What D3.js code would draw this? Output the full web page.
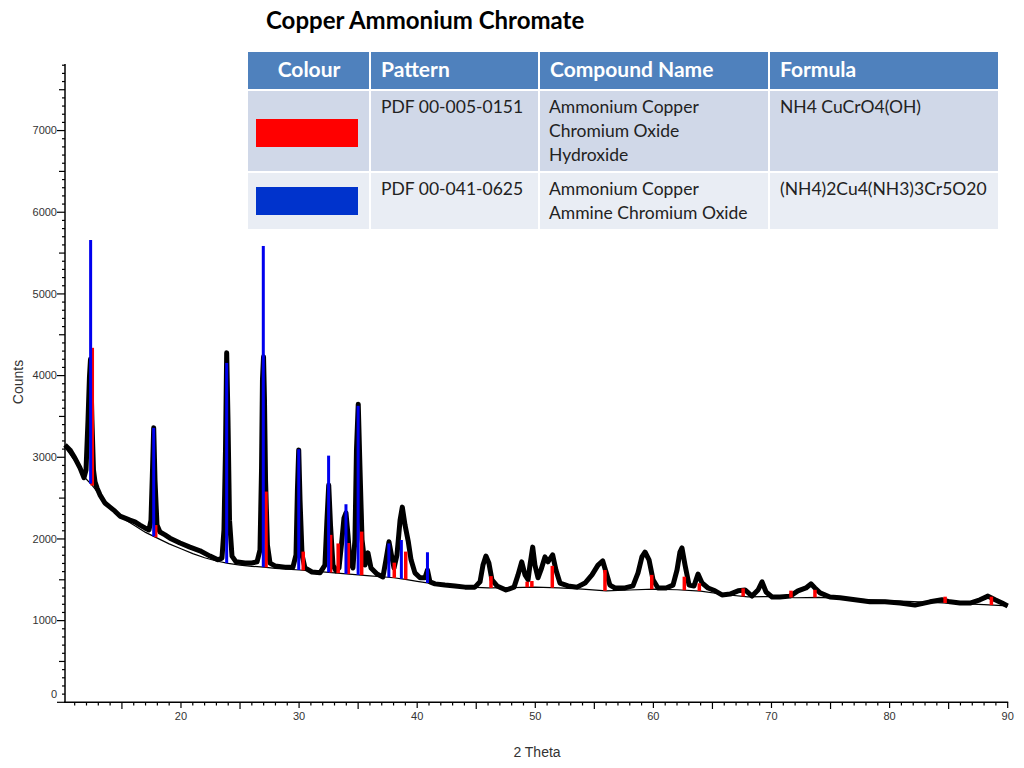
<!DOCTYPE html>
<html>
<head>
<meta charset="utf-8">
<script src="https://cdnjs.cloudflare.com/ajax/libs/d3/7.8.5/d3.min.js"></script>
<style>
  body { margin: 0; background: #fff; }
  svg { display: block; }
</style>
</head>
<body>
<div class="wrapper"></div>
<script>
var chartTitle = "Copper Ammonium Chromate";

var scan = [
  [10.18, 3150], [10.6, 3090], [11.02, 2990], [11.45, 2870], [11.79, 2750], [11.96, 2845],
  [12.13, 3460], [12.25, 3980], [12.34, 4200], [12.46, 3460], [12.59, 2845], [12.72, 2700],
  [12.89, 2625], [13.14, 2540], [13.56, 2440], [13.99, 2390], [14.41, 2340], [14.83, 2280],
  [15.26, 2255], [15.68, 2230], [16.1, 2210], [16.53, 2170], [16.95, 2135], [17.29, 2110],
  [17.46, 2230], [17.59, 2845], [17.69, 3360], [17.8, 2720], [17.97, 2170], [18.22, 2085],
  [18.65, 2050], [19.07, 2010], [19.92, 1950], [20.76, 1900], [21.61, 1855], [22.46, 1790],
  [23.13, 1745], [23.47, 1765], [23.64, 2110], [23.77, 3090], [23.87, 4280], [23.98, 3460],
  [24.11, 2230], [24.32, 1790], [24.66, 1720], [25.42, 1705], [26.01, 1705], [26.44, 1720],
  [26.69, 1865], [26.82, 2845], [26.9, 3950], [26.99, 4230], [27.07, 3700], [27.16, 2720],
  [27.32, 1925], [27.54, 1705], [27.96, 1670], [28.81, 1655], [29.48, 1655], [29.74, 1805],
  [29.86, 2600], [29.97, 3090], [30.08, 2475], [30.25, 1805], [30.5, 1645], [31.09, 1595],
  [31.77, 1585], [32.19, 1680], [32.36, 2230], [32.51, 2660], [32.66, 2170], [32.87, 1680],
  [33.12, 1610], [33.38, 1645], [33.63, 1990], [33.8, 2255], [33.97, 2320], [34.14, 2050],
  [34.31, 1720], [34.56, 1645], [34.73, 1990], [34.86, 3090], [35.01, 3650], [35.16, 2845],
  [35.33, 1990], [35.58, 1680], [35.83, 1830], [36.09, 1645], [36.6, 1570], [37.1, 1535],
  [37.36, 1745], [37.61, 1965], [37.82, 1805], [38.04, 1645], [38.29, 1805], [38.55, 2230],
  [38.74, 2390], [38.97, 2170], [39.25, 1965], [39.48, 1745], [39.81, 1585], [40.24, 1525],
  [40.66, 1525], [40.87, 1620], [41.08, 1475], [41.51, 1450], [42.35, 1435], [43.2, 1425],
  [44.05, 1410], [44.89, 1410], [45.32, 1475], [45.57, 1680], [45.82, 1790], [46.07, 1705],
  [46.33, 1500], [46.76, 1425], [47.52, 1375], [48.2, 1410], [48.54, 1560], [48.85, 1720],
  [49.13, 1560], [49.39, 1500], [49.55, 1680], [49.78, 1900], [49.97, 1680], [50.23, 1525],
  [50.48, 1620], [50.82, 1780], [51.07, 1720], [51.47, 1805], [51.75, 1620], [52.09, 1460],
  [52.77, 1425], [53.53, 1410], [54.21, 1460], [54.8, 1560], [55.31, 1680], [55.71, 1730],
  [55.99, 1595], [56.32, 1435], [56.75, 1400], [57.6, 1400], [58.27, 1425], [58.7, 1585],
  [59.03, 1780], [59.29, 1840], [59.63, 1745], [59.97, 1500], [60.39, 1400], [61.07, 1400],
  [61.66, 1435], [62.0, 1620], [62.25, 1840], [62.42, 1890], [62.68, 1680], [63.02, 1435],
  [63.44, 1425], [63.78, 1570], [64.12, 1460], [64.63, 1400], [65.22, 1365], [65.81, 1315],
  [66.49, 1325], [67.17, 1365], [67.76, 1375], [68.35, 1300], [68.86, 1375], [69.2, 1475],
  [69.54, 1350], [70.05, 1290], [70.72, 1290], [71.57, 1300], [72.24, 1365], [72.92, 1400],
  [73.34, 1450], [73.68, 1400], [74.11, 1340], [74.95, 1290], [75.8, 1280], [77.07, 1255],
  [78.34, 1230], [79.61, 1230], [80.88, 1215], [82.15, 1190], [83.42, 1230], [84.43, 1255],
  [85.11, 1230], [85.96, 1215], [86.81, 1215], [87.65, 1255], [88.33, 1300], [88.93, 1255],
  [89.52, 1215], [90.0, 1180]
];

// fitted background line
var bgTheta = [10.18, 11, 11.8, 12.4, 13, 14, 15, 16, 17, 18, 19, 20, 21, 22, 23, 24, 25, 26, 27, 28,
  29, 30, 31, 32, 33, 34, 35, 36, 37, 38, 39, 40, 41, 42, 43, 44, 46, 48, 50, 52, 54, 56, 58, 60, 62,
  64, 66, 68, 70, 72, 74, 76, 80, 84, 88, 90];
var bgCounts = [3120, 2960, 2760, 2670, 2560, 2390, 2260, 2170, 2080, 2010, 1940, 1880, 1820, 1770,
  1730, 1700, 1680, 1665, 1655, 1640, 1630, 1620, 1608, 1598, 1585, 1572, 1560, 1548, 1537, 1525,
  1505, 1480, 1458, 1440, 1425, 1412, 1400, 1405, 1410, 1400, 1385, 1365, 1375, 1385, 1378, 1362,
  1320, 1290, 1295, 1280, 1285, 1270, 1245, 1220, 1195, 1180];

// PDF 00-005-0151 (red) and PDF 00-041-0625 (blue) stick patterns
var redTheta = [12.49, 17.86, 27.2, 30.35, 32.67, 33.31, 34.17, 35.3, 38.06, 39.03, 46.25, 49.31,
  49.71, 51.44, 55.9, 59.86, 62.62, 63.89, 67.6, 71.65, 73.68, 84.7, 88.62];
var redCounts = [4340, 2170, 2580, 1845, 2050, 1945, 1950, 2090, 1710, 1845, 1545, 1477,
  1485, 1670, 1620, 1560, 1538, 1457, 1395, 1367, 1377, 1293, 1293];
var blueTheta = [12.35, 17.69, 23.87, 26.97, 29.97, 32.5, 33.97, 35.0, 37.6, 38.66, 40.87];
var blueCounts = [5660, 3360, 4155, 5587, 3098, 3020, 2425, 3630, 1945, 1987, 1837];

var yLabelTicks = [0, 1000, 2000, 3000, 4000, 5000, 6000, 7000];
var xLabelTicks = [20, 30, 40, 50, 60, 70, 80, 90];

var tableColumns = ["Colour", "Pattern", "Compound Name", "Formula"];
var tableSwatches = ["#ff0000", "#0033cc"];
var tablePatterns = ["PDF 00-005-0151", "PDF 00-041-0625"];
var tableCompounds = [["Ammonium Copper", "Chromium Oxide", "Hydroxide"], ["Ammonium Copper", "Ammine Chromium Oxide"]];
var tableFormulas = ["NH4 CuCrO4(OH)", "(NH4)2Cu4(NH3)3Cr5O20"];

var width = 1024, height = 768;
var svg = d3.select(".wrapper").append("svg")
  .attr("width", width)
  .attr("height", height);

var x = d3.scaleLinear().domain([10.18, 90]).range([65, 1007.7]);
var y = d3.scaleLinear().domain([0, 7815]).range([702.3, 64]);
var bg = d3.scaleLinear().domain(bgTheta).range(bgCounts);

var axisFont = "'Liberation Sans', Arial, sans-serif";
var tableFont = "Lato, 'Open Sans', sans-serif";

// title
svg.append("text")
  .attr("x", 266)
  .attr("y", 29)
  .attr("font-family", tableFont)
  .attr("font-weight", "bold")
  .attr("font-size", 24)
  .attr("fill", "#000")
  .text(chartTitle);

// y axis
var yg = svg.append("g").attr("class", "axis");
yg.append("line")
  .attr("x1", 65).attr("x2", 65)
  .attr("y1", 64).attr("y2", 702.3)
  .attr("stroke", "#000").attr("stroke-width", 1.5);
yg.selectAll("line.tick")
  .data(d3.range(0, 7801, 100))
  .enter().append("line")
    .attr("class", "tick")
    .attr("x1", function(d) { return d % 1000 == 0 ? 57 : (d % 500 == 0 ? 59 : 62); })
    .attr("x2", 65)
    .attr("y1", function(d) { return y(d); })
    .attr("y2", function(d) { return y(d); })
    .attr("stroke", "#000").attr("stroke-width", 1.2);
yg.selectAll("text")
  .data(yLabelTicks)
  .enter().append("text")
    .attr("x", 57)
    .attr("y", function(d) { return d == 0 ? y(d) - 8 : y(d); })
    .attr("dy", "0.35em")
    .attr("text-anchor", "end")
    .attr("font-family", axisFont)
    .attr("font-size", 11)
    .attr("fill", "#333")
    .text(function(d) { return d; });

// x axis
var xg = svg.append("g").attr("class", "axis");
xg.append("line")
  .attr("x1", 64).attr("x2", x(90) + 0.5)
  .attr("y1", 702.3).attr("y2", 702.3)
  .attr("stroke", "#000").attr("stroke-width", 1.5);
xg.selectAll("line.tick")
  .data(d3.range(11, 91, 1))
  .enter().append("line")
    .attr("class", "tick")
    .attr("x1", function(d) { return x(d); })
    .attr("x2", function(d) { return x(d); })
    .attr("y1", 702.3)
    .attr("y2", function(d) { return d % 10 == 0 ? 708 : (d % 5 == 0 ? 709 : 705.5); })
    .attr("stroke", "#000").attr("stroke-width", 1.2);
xg.selectAll("text")
  .data(xLabelTicks)
  .enter().append("text")
    .attr("x", function(d) { return x(d); })
    .attr("y", 720)
    .attr("text-anchor", "middle")
    .attr("font-family", axisFont)
    .attr("font-size", 11)
    .attr("fill", "#333")
    .text(function(d) { return d; });

// axis titles
svg.append("text")
  .attr("transform", "translate(23,382) rotate(-90)")
  .attr("text-anchor", "middle")
  .attr("font-family", axisFont)
  .attr("font-size", 14)
  .attr("fill", "#333")
  .text("Counts");
svg.append("text")
  .attr("x", 537)
  .attr("y", 757)
  .attr("text-anchor", "middle")
  .attr("font-family", axisFont)
  .attr("font-size", 14)
  .attr("fill", "#333")
  .text("2 Theta");

// scan + background
var line = d3.line()
  .x(function(d) { return x(d[0]); })
  .y(function(d) { return y(d[1]); });

svg.append("path")
  .datum(scan)
  .attr("d", line)
  .attr("fill", "none")
  .attr("stroke", "#000")
  .attr("stroke-width", 5)
  .attr("stroke-linejoin", "round");

svg.append("path")
  .datum(bgTheta.map(function(t, i) { return [t, bgCounts[i]]; }))
  .attr("d", line)
  .attr("fill", "none")
  .attr("stroke", "#000")
  .attr("stroke-width", 1.2);

// sticks
function sticks(thetas, counts, colour, w) {
  svg.append("g")
    .selectAll("rect")
    .data(thetas.map(function(t, i) { return {theta: t, top: counts[i]}; }))
    .enter().append("rect")
      .attr("x", function(d) { return x(d.theta) - w / 2; })
      .attr("y", function(d) { return y(d.top); })
      .attr("width", w)
      .attr("height", function(d) { return y(bg(d.theta)) - y(d.top); })
      .attr("fill", colour);
}
sticks(redTheta, redCounts, "#ff0000", 3.5);
sticks(blueTheta, blueCounts, "#0000ee", 3);

// legend table
var colX = [248, 370, 539, 769, 998];
var rowTop = [52, 91, 173];
var rowBottom = [89, 171, 229];
var rowFill = ["#4f81bd", "#d0d8e8", "#e9edf4"];
var table = svg.append("g").attr("font-family", tableFont);

for (r = 0; r < 3; ++r) {
  for (c = 0; c < 4; ++c) {
    table.append("rect")
      .attr("x", colX[c] + (c > 0 ? 1 : 0))
      .attr("y", rowTop[r])
      .attr("width", colX[c + 1] - colX[c] - (c > 0 ? 1 : 0) - (c < 3 ? 1 : 0))
      .attr("height", rowBottom[r] - rowTop[r])
      .attr("fill", rowFill[r]);
  }
}

table.selectAll("text.head")
  .data(tableColumns)
  .enter().append("text")
    .attr("class", "head")
    .attr("x", function(d, i) { return i == 0 ? (colX[0] + colX[1]) / 2 : colX[i] + 11; })
    .attr("y", 77)
    .attr("text-anchor", function(d, i) { return i == 0 ? "middle" : "start"; })
    .attr("font-weight", "bold")
    .attr("font-size", 21)
    .attr("fill", "#fff")
    .text(function(d) { return d; });

tablePatterns.forEach(function(p, i) {
  var base = rowTop[i + 1] + 22;
  table.append("rect")
    .attr("x", 256)
    .attr("y", rowTop[i + 1] + 28 - i * 14)
    .attr("width", 102)
    .attr("height", 28)
    .attr("fill", tableSwatches[i]);
  table.append("text")
    .attr("x", colX[1] + 11).attr("y", base)
    .attr("font-size", 17.5).attr("fill", "#222")
    .text(p);
  tableCompounds[i].forEach(function(s, j) {
    table.append("text")
      .attr("x", colX[2] + 10).attr("y", base + j * 24)
      .attr("font-size", 17.5).attr("fill", "#222")
      .text(s);
  });
  table.append("text")
    .attr("x", colX[3] + 11).attr("y", base)
    .attr("font-size", 17.5).attr("fill", "#222")
    .text(tableFormulas[i]);
});
</script>
</body>
</html>
